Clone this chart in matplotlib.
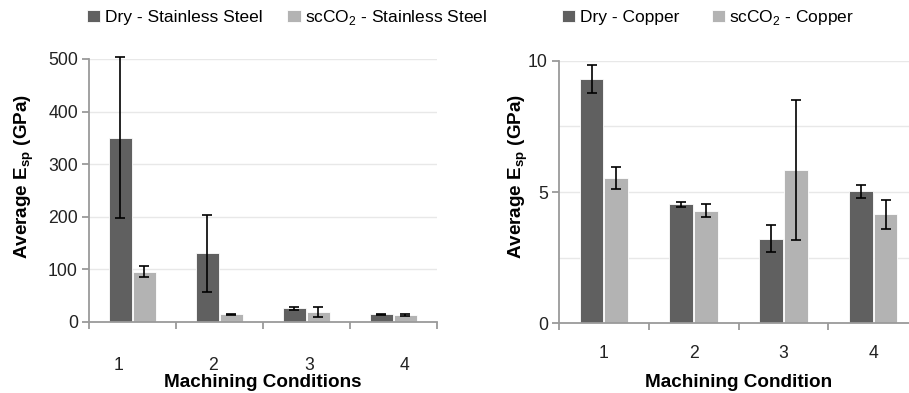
import matplotlib
matplotlib.use('Agg')
import matplotlib.pyplot as plt
import matplotlib.ticker as ticker
import numpy as np

plt.rcParams['font.family'] = ['Liberation Sans', 'DejaVu Sans']
plt.rcParams['mathtext.fontset'] = 'custom'
plt.rcParams['mathtext.rm'] = 'Liberation Sans'
plt.rcParams['mathtext.bf'] = 'Liberation Sans:bold'

# Data
conditions = ['1', '2', '3', '4']

ss_dry = [350, 130.5, 26, 14.6]
ss_dry_err = [153, 73, 2.5, 1.5]
ss_sc = [95.6, 14.6, 19, 13.3]
ss_sc_err = [10, 1.5, 9, 1]

cu_dry = [9.31, 4.53, 3.22, 5.03]
cu_dry_err = [0.53, 0.1, 0.51, 0.25]
cu_sc = [5.53, 4.29, 5.84, 4.15]
cu_sc_err = [0.42, 0.24, 2.66, 0.55]

DARK = '#606060'
LIGHT = '#b3b3b3'
SPINE = '#9a9a9a'
GRID = '#e8e8e8'
FS = 12.7     # tick labels
LFS = 12.5    # legend
AFS = 13.6    # axis titles

fig = plt.figure(figsize=(9.09, 3.93), dpi=100)
ax1 = fig.add_axes([0.0979, 0.1807, 0.3828, 0.6692])
ax2 = fig.add_axes([0.6150, 0.1781, 0.3950, 0.6667])

x = np.arange(len(conditions))
w = 0.265
off = 0.138


def draw(ax, dry, dry_err, sc, sc_err, dry_lab, sc_lab):
    ax.bar(x - off, dry, w, color=DARK, edgecolor='white', linewidth=0.6,
           label=dry_lab, zorder=2)
    ax.bar(x + off, sc, w, color=LIGHT, edgecolor='white', linewidth=0.6,
           label=sc_lab, zorder=2)
    for xs, ys, es in [(x - off, dry, dry_err), (x + off, sc, sc_err)]:
        eb = ax.errorbar(xs, ys, yerr=es, fmt='none', ecolor='black',
                         elinewidth=1.2, capsize=3.5, capthick=1.2, zorder=3)
        for art in eb.lines[1] + eb.lines[2]:
            art.set_clip_on(False)
    ax.set_xlim(-0.5, len(conditions) - 0.5)
    for s in ['top', 'right']:
        ax.spines[s].set_visible(False)
    for s in ['left', 'bottom']:
        ax.spines[s].set_color(SPINE)
        ax.spines[s].set_linewidth(1.3)
    # group boundary ticks
    ax.set_xticks(np.arange(len(conditions) + 1) - 0.5)
    ax.set_xticklabels([])
    ax.tick_params(axis='x', which='major', direction='out', length=5,
                   color=SPINE, width=1.3)
    ax.tick_params(axis='y', which='major', direction='out', length=5,
                   color=SPINE, width=1.3, labelsize=FS, labelcolor='#222222',
                   pad=3)
    ax.set_axisbelow(True)


# Left: stainless steel
draw(ax1, ss_dry, ss_dry_err, ss_sc, ss_sc_err,
     'Dry - Stainless Steel', r'scCO$_2$ - Stainless Steel')
ax1.set_ylim(0, 500)
ax1.set_yticks(np.arange(0, 501, 100))
ax1.yaxis.grid(True, color=GRID, linewidth=1.0)
# the category labels in this panel sit off-centre in the original
ax1.set_xticks([-0.155, 0.92, 2.035, 3.13], minor=True)
ax1.set_xticklabels(conditions, minor=True)
ax1.tick_params(axis='x', which='minor', length=0, pad=25.5, labelsize=FS,
                labelcolor='#222222')
ax1.set_xlabel('Machining Conditions', fontsize=AFS, fontweight='bold')
ax1.xaxis.set_label_coords(0.5, -0.198)
ax1.set_ylabel(r'Average E$_\mathbf{sp}$ (GPa)', fontsize=AFS,
               fontweight='bold')
ax1.yaxis.set_label_coords(-0.152, 0.555)

# Right: copper
draw(ax2, cu_dry, cu_dry_err, cu_sc, cu_sc_err,
     'Dry - Copper', r'scCO$_2$ - Copper')
ax2.set_ylim(0, 10)
ax2.set_yticks([0, 5, 10])
ax2.yaxis.set_minor_locator(ticker.FixedLocator([2.5, 7.5]))
ax2.tick_params(axis='y', which='minor', length=0)
ax2.yaxis.grid(True, which='both', color=GRID, linewidth=1.0)
ax2.set_xticks(x, minor=True)
ax2.set_xticklabels(conditions, minor=True)
ax2.tick_params(axis='x', which='minor', length=0, pad=16, labelsize=FS,
                labelcolor='#222222')
ax2.set_xlabel('Machining Condition', fontsize=AFS, fontweight='bold')
ax2.xaxis.set_label_coords(0.5, -0.193)
ax2.set_ylabel(r'Average E$_\mathbf{sp}$ (GPa)', fontsize=AFS,
               fontweight='bold')
ax2.yaxis.set_label_coords(-0.081, 0.561)

# Legends above each panel
h1, l1 = ax1.get_legend_handles_labels()
fig.legend(h1, l1, loc='center left', bbox_to_anchor=(0.0955, 0.955), ncol=2,
           frameon=False, fontsize=LFS, handlelength=0.75, handleheight=0.75,
           handletextpad=0.28, columnspacing=1.45, borderaxespad=0,
           borderpad=0)
h2, l2 = ax2.get_legend_handles_labels()
fig.legend(h2, l2, loc='center left', bbox_to_anchor=(0.6185, 0.955), ncol=2,
           frameon=False, fontsize=LFS, handlelength=0.75, handleheight=0.75,
           handletextpad=0.28, columnspacing=1.85, borderaxespad=0,
           borderpad=0)

fig.savefig('out.png', dpi=100)
